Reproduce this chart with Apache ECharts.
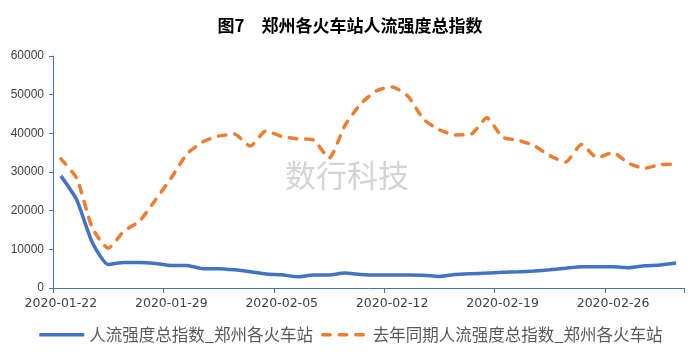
<!DOCTYPE html>
<html>
<head>
<meta charset="utf-8">
<script src="https://cdn.jsdelivr.net/npm/echarts@6/dist/echarts.min.js"></script>
<style>html,body{margin:0;padding:0;background:#fff;}#c{width:700px;height:360px;}</style>
</head>
<body>
<div id="c"></div>
<script>
const dates = [
  '2020-01-22','2020-01-23','2020-01-24','2020-01-25','2020-01-26','2020-01-27','2020-01-28','2020-01-29','2020-01-30','2020-01-31',
  '2020-02-01','2020-02-02','2020-02-03','2020-02-04','2020-02-05','2020-02-06','2020-02-07','2020-02-08','2020-02-09','2020-02-10',
  '2020-02-11','2020-02-12','2020-02-13','2020-02-14','2020-02-15','2020-02-16','2020-02-17','2020-02-18','2020-02-19','2020-02-20',
  '2020-02-21','2020-02-22','2020-02-23','2020-02-24','2020-02-25','2020-02-26','2020-02-27','2020-02-28','2020-02-29','2020-03-01'
];
const thisYear = [
  29000, 22800, 11700, 6100, 6600, 6600, 6350, 5850, 5850, 5000,
  5000, 4700, 4200, 3600, 3400, 2900, 3350, 3350, 3850, 3500,
  3350, 3350, 3350, 3300, 3000, 3500, 3700, 3850, 4100, 4200,
  4400, 4700, 5100, 5500, 5500, 5500, 5250, 5750, 5950, 6450
];
const lastYear = [
  33400, 28400, 15500, 10300, 14700, 17400, 22800, 28500, 34700, 37800,
  39300, 39800, 36700, 40600, 39200, 38600, 38300, 33600, 42000, 47600,
  51000, 52000, 49600, 43600, 40900, 39600, 39800, 44000, 39000, 38200,
  36800, 34200, 32600, 37100, 33700, 35000, 32200, 31000, 31900, 32000
];
const seriesNames = ['人流强度总指数_郑州各火车站', '去年同期人流强度总指数_郑州各火车站'];
const titleText = '图7　郑州各火车站人流强度总指数';
const watermark = '数行科技';

const chart = echarts.init(document.getElementById('c'), null, {renderer: 'canvas'});
chart.setOption({
  animation: false,
  backgroundColor: '#ffffff',
  title: {
    text: titleText,
    left: 'center',
    top: 12,
    textStyle: {fontFamily: 'Noto Sans CJK SC', fontSize: 17, fontWeight: 'bold', color: '#000000'}
  },
  graphic: [{
    type: 'text',
    left: 285,
    top: 160,
    z: 0,
    style: {text: watermark, fontSize: 31, fontFamily: 'Noto Sans CJK SC', fill: '#d4d4d4'}
  }],
  legend: {
    bottom: 12,
    left: 'center',
    itemWidth: 45,
    itemHeight: 10,
    itemGap: 8,
    itemStyle: {opacity: 0},
    lineStyle: {width: 3.5},
    textStyle: {fontFamily: 'Noto Sans CJK SC', fontSize: 16.5, color: '#595959'},
    data: seriesNames
  },
  grid: {left: 53, right: 16, top: 56, bottom: 72},
  xAxis: {
    type: 'category',
    data: dates,
    boundaryGap: true,
    axisLine: {show: true, lineStyle: {color: '#4472C4', width: 1}},
    axisTick: {show: true, interval: 6, length: 5, lineStyle: {color: '#4472C4'}},
    axisLabel: {interval: 6, margin: 9, fontFamily: 'DejaVu Sans', fontSize: 12.5, color: '#404040'},
    splitLine: {show: false}
  },
  yAxis: {
    type: 'value',
    min: 0,
    max: 60000,
    interval: 10000,
    axisLine: {show: true, lineStyle: {color: '#4472C4', width: 1}},
    axisTick: {show: true, length: 4, lineStyle: {color: '#4472C4'}},
    axisLabel: {margin: 9, fontFamily: 'Liberation Sans', fontSize: 12, color: '#404040', formatter: function (v) { return String(v); }},
    splitLine: {show: false}
  },
  series: [
    {
      name: seriesNames[0],
      type: 'line',
      data: thisYear,
      symbol: 'none',
      smooth: 0.2,
      lineStyle: {color: '#4472C4', width: 3.5},
      itemStyle: {color: '#4472C4'},
      z: 3
    },
    {
      name: seriesNames[1],
      type: 'line',
      data: lastYear,
      symbol: 'none',
      smooth: 0.2,
      lineStyle: {color: '#ED7D31', width: 3.5, type: [7.5, 9], cap: 'round'},
      itemStyle: {color: '#ED7D31'},
      z: 2
    }
  ]
});
</script>
</body>
</html>
